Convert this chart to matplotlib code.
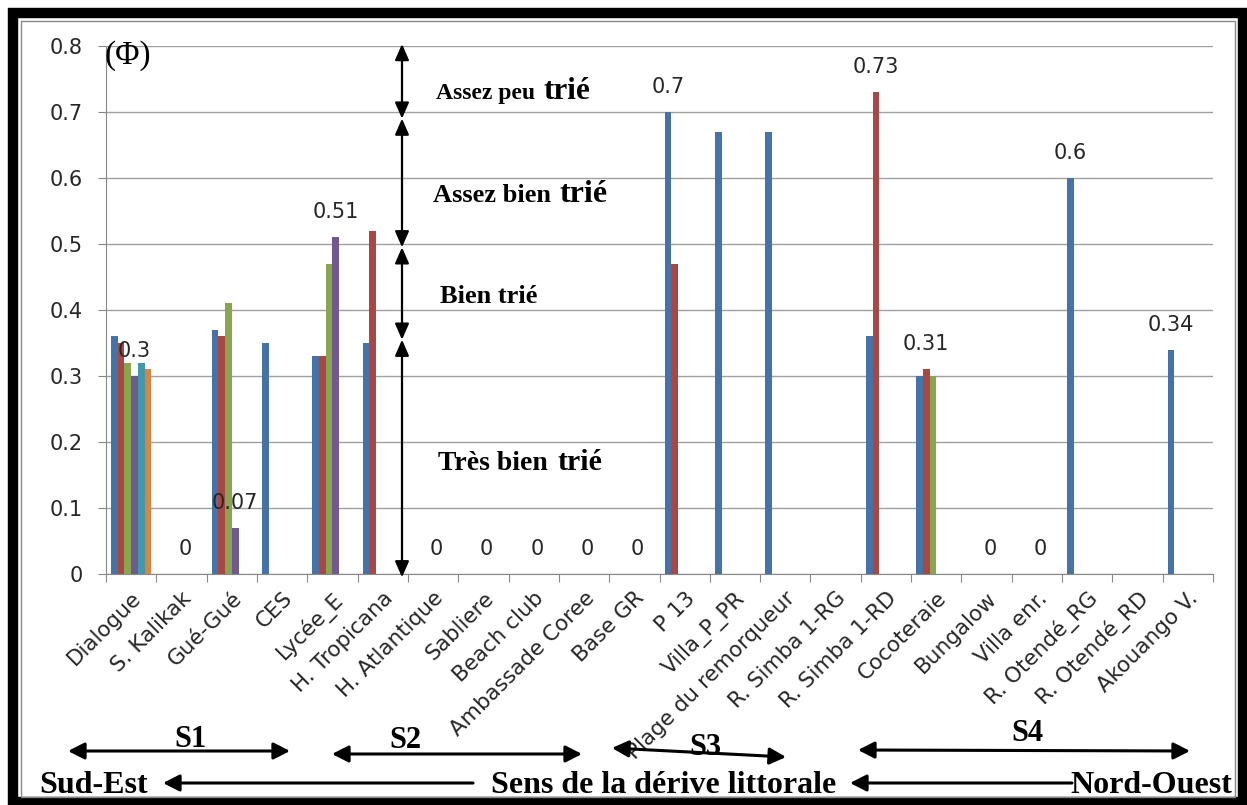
import numpy as np
import matplotlib
matplotlib.use('Agg')
import matplotlib.pyplot as plt
from matplotlib.patches import Rectangle

# sites along the coast (SE -> NW)
sites = ['Dialogue', 'S. Kalikak', 'Gué-Gué', 'CES', 'Lycée_E', 'H. Tropicana',
         'H. Atlantique', 'Sabliere', 'Beach club', 'Ambassade Coree', 'Base GR',
         'P 13', 'Villa_P_PR', 'Plage du remorqueur', 'R. Simba 1-RG', 'R. Simba 1-RD',
         'Cocoteraie', 'Bungalow', 'Villa enr.', 'R. Otendé_RG', 'R. Otendé_RD', 'Akouango V.']

# sorting index (phi) for each sample series
s1 = [0.36, 0, 0.37, 0.35, 0.33, 0.35, 0, 0, 0, 0, 0, 0.70, 0.67, 0.67, 0, 0.36, 0.30, 0, 0, 0.60, 0, 0.34]
s2 = [0.35, 0, 0.36, 0, 0.33, 0.52, 0, 0, 0, 0, 0, 0.47, 0, 0, 0, 0.73, 0.31, 0, 0, 0, 0, 0]
s3 = [0.32, 0, 0.41, 0, 0.47, 0, 0, 0, 0, 0, 0, 0, 0, 0, 0, 0, 0.30, 0, 0, 0, 0, 0]
s4 = [0.30, 0, 0.07, 0, 0.51, 0, 0, 0, 0, 0, 0, 0, 0, 0, 0, 0, 0, 0, 0, 0, 0, 0]
s5 = [0.32, 0, 0, 0, 0, 0, 0, 0, 0, 0, 0, 0, 0, 0, 0, 0, 0, 0, 0, 0, 0, 0]
s6 = [0.31, 0, 0, 0, 0, 0, 0, 0, 0, 0, 0, 0, 0, 0, 0, 0, 0, 0, 0, 0, 0, 0]
series = [s1, s2, s3, s4, s5, s6]
colors = ['#4572A7', '#AA4643', '#89A54E', '#71588F', '#4198AF', '#DB843D']

# which series carries the value label for each site (None = no label)
label_series = [3, 3, 3, None, 3, None, 3, 3, 3, 3, 3, 0, None, None, None, 1, 1, 3, 3, 0, None, 0]

W, H = 1247, 805


def fp(x, y):
    # pixel position (from top-left) -> figure fraction
    return (x / W, 1 - y / H)


fig = plt.figure(figsize=(W / 100, H / 100), dpi=100)
fig.patch.set_facecolor('white')
ax = fig.add_axes([106 / W, 1 - 574 / H, (1213 - 106) / W, (574 - 46) / H])

n = len(sites)
x = np.arange(n) + 0.5
w = 1 / 7.5
for i, vals in enumerate(series):
    ax.bar(x + (i - 2.5) * w, vals, w, color=colors[i], zorder=3)

for j, si in enumerate(label_series):
    if si is None:
        continue
    v = series[si][j]
    ax.annotate(f'{v:g}', (x[j] + (si - 2.5) * w, v), xytext=(0, 18),
                textcoords='offset points', ha='center', va='center',
                fontsize=15, color='#262626', zorder=5)

ax.set_xlim(0, n)
ax.set_ylim(0, 0.8)
ax.set_yticks(np.arange(0, 0.81, 0.1))
ax.set_yticklabels(['0', '0.1', '0.2', '0.3', '0.4', '0.5', '0.6', '0.7', '0.8'])
ax.set_xticks(np.arange(n + 1))
ax.set_xticklabels([])
ax.set_xticks(x, minor=True)
ax.set_xticklabels(sites, minor=True, rotation=45, ha='right', va='top',
                   rotation_mode='anchor', fontsize=15.5, color='#262626')
ax.tick_params(axis='x', which='minor', length=0, pad=10)
ax.tick_params(axis='x', which='major', length=6, color='#888888', direction='out')
ax.tick_params(axis='y', length=6, color='#888888', pad=11, labelsize=15, labelcolor='#262626')
ax.grid(axis='y', color='#A0A0A0', lw=1, zorder=0)
for s in ['top', 'right']:
    ax.spines[s].set_visible(False)
for s in ['left', 'bottom']:
    ax.spines[s].set_color('#888888')

# phi symbol
fig.text(*fp(104, 64), '(\u03a6)', fontfamily='Liberation Serif', fontsize=24, va='baseline')

# sorting classes
ax_x = (402 - 106) / ((1213 - 106) / n)
for top, bottom in [(0.803, 0.69), (0.69, 0.495), (0.495, 0.355), (0.355, -0.005)]:
    ax.annotate('', xy=(ax_x, top), xytext=(ax_x, bottom), annotation_clip=False,
                arrowprops=dict(arrowstyle='<|-|>,head_length=0.8,head_width=0.35',
                                color='black', lw=1.6, shrinkA=0, shrinkB=0,
                                mutation_scale=12), zorder=6)

serif = dict(fontfamily='Liberation Serif', fontweight='bold', va='baseline', color='black')
fig.text(*fp(436, 99), 'Assez peu', fontsize=17, **serif)
fig.text(*fp(543, 99), 'trié', fontsize=22.5, **serif)
fig.text(*fp(433, 202), 'Assez bien', fontsize=19, **serif)
fig.text(*fp(560, 202), 'trié', fontsize=23, **serif)
fig.text(*fp(440, 303), 'Bien trié', fontsize=19, **serif)
fig.text(*fp(438, 470), 'Très bien', fontsize=20, **serif)
fig.text(*fp(557, 470), 'trié', fontsize=21.5, **serif)

# sectors and drift direction
def farrow(x1, y1, x2, y2, style):
    ax.annotate('', xy=fp(x2, y2), xytext=fp(x1, y1), xycoords='figure fraction',
                textcoords='figure fraction', annotation_clip=False,
                arrowprops=dict(arrowstyle=style, color='black', lw=2.2,
                                shrinkA=0, shrinkB=0, mutation_scale=18))


both = '<|-|>,head_length=0.55,head_width=0.28'
left = '-|>,head_length=0.55,head_width=0.28'
farrow(68, 751, 290, 751, both)
farrow(332, 754, 582, 754, both)
farrow(612, 748, 786, 757, both)
farrow(858, 750, 1190, 751, both)
farrow(473, 783, 163, 783, left)
farrow(1072, 783, 850, 783, left)

fig.text(*fp(190, 747), 'S1', fontsize=22, ha='center', **serif)
fig.text(*fp(405, 748), 'S2', fontsize=22, ha='center', **serif)
fig.text(*fp(705, 755), 'S3', fontsize=22, ha='center', **serif)
fig.text(*fp(1027, 741), 'S4', fontsize=22, ha='center', **serif)
fig.text(*fp(39, 793), 'Sud-Est', fontsize=23, **serif)
fig.text(*fp(664, 793), 'Sens de la dérive littorale', fontsize=23, ha='center', **serif)
fig.text(*fp(1232, 793), 'Nord-Ouest', fontsize=23, ha='right', **serif)

# frame around the figure
x0, y0 = fp(13, 802)
x1, y1 = fp(1243, 13)
fig.add_artist(Rectangle((x0, y0), x1 - x0, y1 - y0, transform=fig.transFigure,
                         fill=False, ec='black', lw=7.5))
x0, y0 = fp(21, 797)
x1, y1 = fp(1235, 21)
fig.add_artist(Rectangle((x0, y0), x1 - x0, y1 - y0, transform=fig.transFigure,
                         fill=False, ec='#888888', lw=1))

fig.savefig('out.png', dpi=100)
